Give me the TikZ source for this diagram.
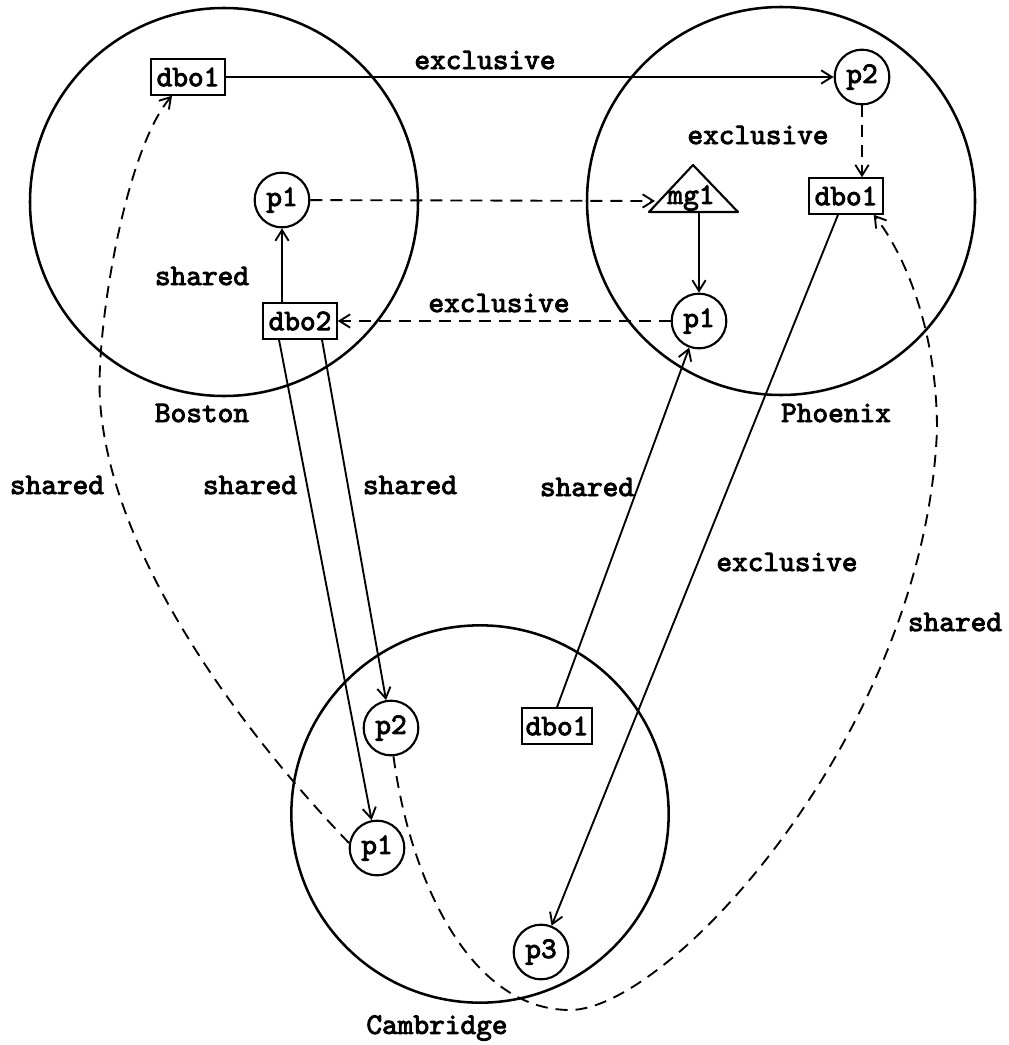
\documentclass[tikz,border=0pt]{standalone}
\usepackage{fontspec}
\newfontfamily\lblfont{lmmono10-regular.otf}[FakeBold=3]
\usetikzlibrary{arrows.meta}
\begin{document}
\begin{tikzpicture}[x=0.75pt,y=-0.75pt,
  lbl/.style={font=\fontsize{22.4}{26}\selectfont\lblfont, inner sep=0pt},
  region/.style={circle, draw, line width=1.9pt, inner sep=0pt},
  pcirc/.style={circle, draw, line width=1.6pt, minimum size=41pt, inner sep=0pt, lbl},
  dbox/.style={rectangle, draw, line width=1.6pt, minimum width=55pt, minimum height=26.5pt, inner sep=0pt, lbl},
  conn/.style={line width=1.4pt, -{Straight Barb[length=8pt,width=10pt,line width=1.4pt]}},
  dconn/.style={conn, dash pattern=on 9pt off 6pt}]
\useasboundingbox (0,0) rectangle (1008,1045);

% regions
\node[region, minimum size=291pt] (bos) at (224,202) {};
\node[region, minimum size=291pt] (phx) at (781,201) {};
\node[region, minimum size=283pt] (cam) at (480,814) {};
\node[lbl] (lbos) at (202,413) {Boston};
\node[lbl] (lphx) at (836,413) {Phoenix};
\node[lbl] (lcam) at (437,1028) {Cambridge};

% Boston
\node[dbox] (bdbo1) at (188,77) {dbo1};
\node[pcirc] (bp1) at (282,200) {p1};
\node[dbox] (bdbo2) at (300,321) {dbo2};

% Phoenix
\node[pcirc] (pp2) at (862,77) {p2};
\node[dbox] (pdbo1) at (846,196) {dbo1};
\node[pcirc] (pp1) at (699,321) {p1};
\coordinate (mgA) at (693,165);
\coordinate (mgBL) at (649,212);
\coordinate (mgBR) at (738,212);
\coordinate (mgL) at (655,201);
\coordinate (mgB) at (699,212);
\draw[line width=1.6pt, line join=round] (mgBL) -- (mgA) -- (mgBR) -- cycle;
\node[lbl] (mg1) at (691,198) {mg1};

% Cambridge
\node[pcirc] (cp2) at (391,728) {p2};
\node[pcirc] (cp1) at (377,848) {p1};
\node[dbox, minimum width=52pt] (cdbo1) at (557,726) {dbo1};
\node[pcirc] (cp3) at (541,952) {p3};

% connectors
\draw[conn] (bdbo1) -- (pp2);
\draw[dconn] (bp1) -- (mgL);
\draw[conn] (bp1 |- bdbo2.north) -- (bp1.south);
\draw[dconn] (pp1) -- (bdbo2);
\draw[dconn] (pp2.south) -- (pp2 |- pdbo1.north);
\draw[conn] (mgB) -- (pp1.north);
\draw[conn] ([xshift=-15.75pt]bdbo2.south) -- (cp1);
\draw[conn] ([xshift=16.5pt]bdbo2.south) -- (cp2);
\draw[conn] (cdbo1.north) -- (pp1);
\draw[conn] ([xshift=-6pt]pdbo1.south) -- (cp3);
\draw[dconn] (cp1.170) .. controls (250,740) and (110,560) .. (100,400)
   .. controls (95.6,330) and (125,150) .. ([xshift=-12pt]bdbo1.south);
\draw[dconn] (cp2.275) .. controls (410,880) and (470,1010) .. (570,1010)
   .. controls (670,1010) and (925,730) .. (937,430)
   .. controls (937,330) and (905,255) .. ([xshift=-7.5pt]pdbo1.south east);

% edge labels
\node[lbl] (e1) at (485,60) {exclusive};
\node[lbl] (e2) at (758,135) {exclusive};
\node[lbl] (e3) at (202,276) {shared};
\node[lbl] (e4) at (499,303) {exclusive};
\node[lbl] (e5) at (57,485) {shared};
\node[lbl] (e6) at (250,485) {shared};
\node[lbl] (e7) at (410,485) {shared};
\node[lbl] (e8) at (587,487) {shared};
\node[lbl] (e9) at (787,562) {exclusive};
\node[lbl] (e10) at (955,622) {shared};
\end{tikzpicture}
\end{document}
